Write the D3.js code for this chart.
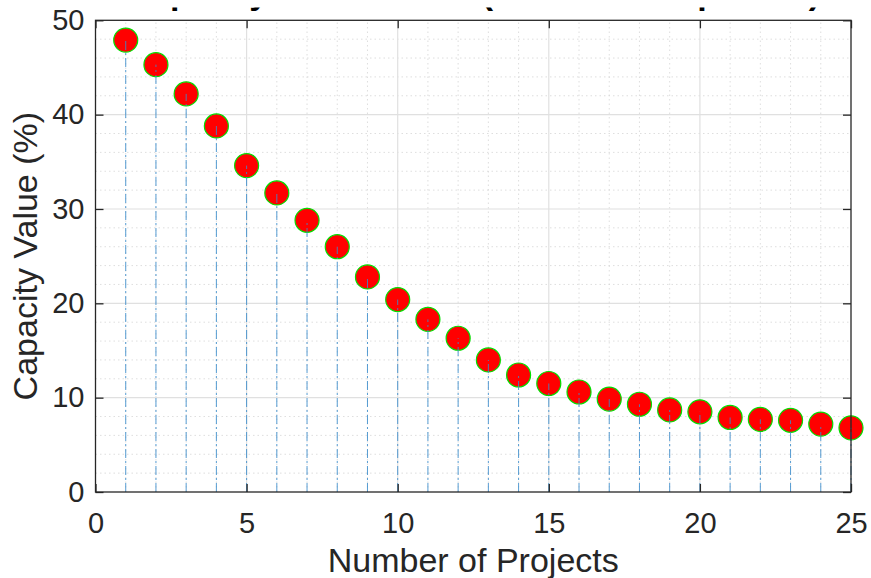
<!DOCTYPE html>
<html>
<head>
<meta charset="utf-8">
<script src="https://d3js.org/d3.v7.min.js"></script>
<style>
    body { margin: 0; background: #fff; }
    text { font-family: "Liberation Sans", Arial, Helvetica, sans-serif; fill: #262626; }
</style>
</head>
<body>
<script>
// chart data
var projects = d3.range(1, 26);
var capacity = [47.9, 45.3, 42.2, 38.8, 34.6, 31.7, 28.8, 26.0, 22.8, 20.4,
                18.3, 16.3, 14.0, 12.4, 11.5, 10.6, 9.85, 9.3, 8.7, 8.5,
                7.9, 7.7, 7.6, 7.2, 6.8];
var xTicks = [0, 5, 10, 15, 20, 25];
var yTicks = [0, 10, 20, 30, 40, 50];
var xMinor = d3.range(0, 26, 1);
var yMinor = d3.range(0, 51, 2);

var width = 871, height = 578;
var margin = {top: 20.3, right: 20, bottom: 86, left: 95.5};

var svg = d3.select("body").append("svg")
    .attr("width", width)
    .attr("height", height);

var x = d3.scaleLinear()
    .domain([0, 25])
    .range([margin.left, width - margin.right]);

var y = d3.scaleLinear()
    .domain([0, 50])
    .range([height - margin.bottom, margin.top]);

var data = projects.map(function(p, i) { return {x: p, y: capacity[i]}; });

// title, mostly cut off by the top edge
svg.append("clipPath").attr("id", "titleClip")
    .append("rect").attr("x", 0).attr("y", 7.5).attr("width", width).attr("height", 12);

svg.append("text")
    .attr("clip-path", "url(#titleClip)")
    .attr("x", (x.range()[0] + x.range()[1]) / 2)
    .attr("y", 4)
    .attr("text-anchor", "middle")
    .style("font-size", "34px")
    .style("font-weight", "bold")
    .style("fill", "#000")
    .text("Capacity Value Curve (Ranked Sample Set)");

// minor grid
svg.append("g").selectAll("line")
    .data(xMinor.filter(function(d) { return d % 5 !== 0; }))
    .join("line")
    .attr("x1", x).attr("x2", x)
    .attr("y1", y(0)).attr("y2", y(50))
    .style("stroke", "#d6d6d6")
    .style("stroke-width", 0.8)
    .style("stroke-dasharray", "1.5,3");

svg.append("g").selectAll("line")
    .data(yMinor.filter(function(d) { return d % 10 !== 0; }))
    .join("line")
    .attr("x1", x(0)).attr("x2", x(25))
    .attr("y1", y).attr("y2", y)
    .style("stroke", "#d6d6d6")
    .style("stroke-width", 0.8)
    .style("stroke-dasharray", "1.5,3");

// major grid
svg.append("g").selectAll("line")
    .data(xTicks.slice(1, -1))
    .join("line")
    .attr("x1", x).attr("x2", x)
    .attr("y1", y(0)).attr("y2", y(50))
    .style("stroke", "#e0e0e0")
    .style("stroke-width", 1.2);

svg.append("g").selectAll("line")
    .data(yTicks.slice(1, -1))
    .join("line")
    .attr("x1", x(0)).attr("x2", x(25))
    .attr("y1", y).attr("y2", y)
    .style("stroke", "#e0e0e0")
    .style("stroke-width", 1.2);

// markers
svg.append("g").selectAll("circle")
    .data(data)
    .join("circle")
    .attr("cx", function(d) { return x(d.x); })
    .attr("cy", function(d) { return y(d.y); })
    .attr("r", 12)
    .style("fill", "#ff0000")
    .style("stroke", "#00e000")
    .style("stroke-width", 1.2);

// stems, dash-dot
svg.append("g").selectAll("line")
    .data(data)
    .join("line")
    .attr("x1", function(d) { return x(d.x); })
    .attr("x2", function(d) { return x(d.x); })
    .attr("y1", y(0))
    .attr("y2", function(d) { return y(d.y); })
    .style("stroke", "#3a8ccc")
    .style("stroke-width", 1)
    .style("opacity", 0.85)
    .style("stroke-dasharray", "9,3,2,3");

// axes with inward ticks on all sides
var tickLen = 8;
var axisColor = "#262626";

var xAxisB = d3.axisBottom(x).tickValues(xTicks).tickSizeInner(-tickLen).tickSizeOuter(0).tickPadding(20);
var xAxisT = d3.axisTop(x).tickValues(xTicks).tickSizeInner(-tickLen).tickSizeOuter(0).tickFormat("");
var yAxisL = d3.axisLeft(y).tickValues(yTicks).tickSizeInner(-tickLen).tickSizeOuter(0).tickPadding(11);
var yAxisR = d3.axisRight(y).tickValues(yTicks).tickSizeInner(-tickLen).tickSizeOuter(0).tickFormat("");

function styleAxis(g) {
    g.select(".domain").remove();
    g.selectAll(".tick line").style("stroke", axisColor).style("stroke-width", 1.3);
    g.selectAll(".tick text").style("font-size", "29px").style("fill", axisColor);
}

svg.append("g").attr("transform", "translate(0," + y(0) + ")").call(xAxisB).call(styleAxis);
svg.append("g").attr("transform", "translate(0," + y(50) + ")").call(xAxisT).call(styleAxis);
svg.append("g").attr("transform", "translate(" + x(0) + ",0)").call(yAxisL).call(styleAxis);
svg.append("g").attr("transform", "translate(" + x(25) + ",0)").call(yAxisR).call(styleAxis);

// box
svg.append("rect")
    .attr("x", x(0)).attr("y", y(50))
    .attr("width", x(25) - x(0)).attr("height", y(0) - y(50))
    .style("fill", "none")
    .style("stroke", axisColor)
    .style("stroke-width", 1.3);

// axis labels
svg.append("text")
    .attr("x", (x(0) + x(25)) / 2)
    .attr("y", 572)
    .attr("text-anchor", "middle")
    .style("font-size", "34px")
    .text("Number of Projects");

svg.append("text")
    .attr("transform", "translate(37," + (y(0) + y(50)) / 2 + ") rotate(-90)")
    .attr("text-anchor", "middle")
    .style("font-size", "34px")
    .text("Capacity Value (%)");
</script>
</body>
</html>
